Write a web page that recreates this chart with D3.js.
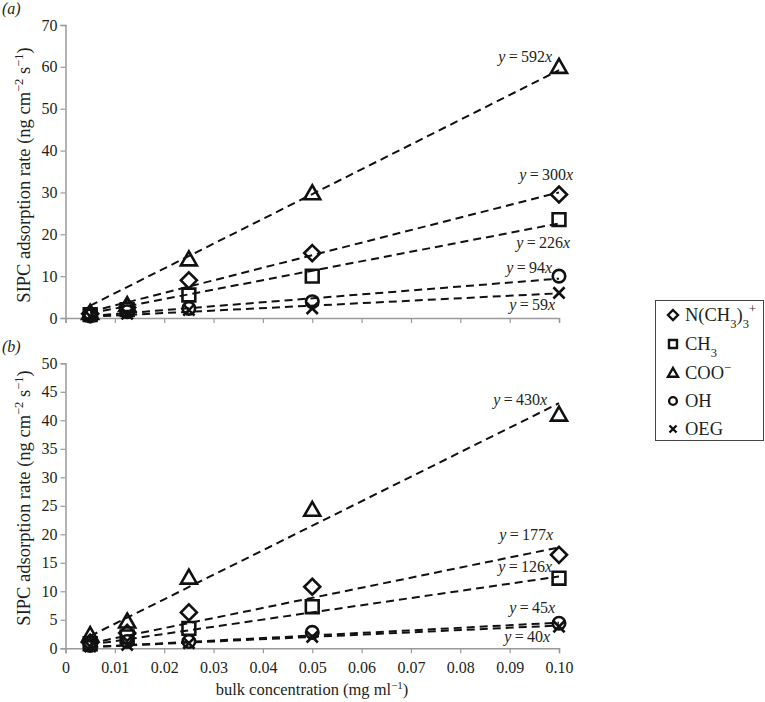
<!DOCTYPE html>
<html><head><meta charset="utf-8">
<script src="https://cdn.jsdelivr.net/npm/d3@7/dist/d3.min.js"></script>
<style>
body{margin:0;background:#fff;}
text{font-family:"Liberation Serif","Times New Roman",serif;fill:#231f20;}
</style></head><body>
<svg id="chart" width="765" height="702"></svg>
<script>
// ---- data ----
const concentrations = [0.005, 0.0125, 0.025, 0.05, 0.1];
const seriesNames = ["N(CH3)3+", "CH3", "COO-", "OH", "OEG"];
const seriesShapes = ["diamond", "square", "triangle", "circle", "cross"];
// panel (a)
const aNMe3 = [1.0, 2.5, 9.0, 15.5, 29.5];
const aCH3  = [0.8, 2.0, 5.5, 10.0, 23.5];
const aCOO  = [1.2, 3.1, 14.0, 29.8, 60.0];
const aOH   = [0.5, 1.5, 2.3, 3.9, 10.0];
const aOEG  = [0.4, 1.0, 1.9, 2.3, 6.0];
const aSlopes = [300, 226, 592, 94, 59];
// panel (b)
const bNMe3 = [1.0, 2.7, 6.3, 10.8, 16.4];
const bCH3  = [0.8, 2.0, 3.5, 7.3, 12.3];
const bCOO  = [2.3, 4.7, 12.4, 24.3, 41.0];
const bOH   = [0.5, 1.2, 1.2, 2.8, 4.4];
const bOEG  = [0.3, 0.6, 0.9, 2.0, 3.8];
const bSlopes = [177, 126, 430, 45, 40];
const xTicks = [0, 0.01, 0.02, 0.03, 0.04, 0.05, 0.06, 0.07, 0.08, 0.09, 0.10];
const xTickLabels = ["0", "0.01", "0.02", "0.03", "0.04", "0.05", "0.06", "0.07", "0.08", "0.09", "0.10"];
const aYTicks = [0, 10, 20, 30, 40, 50, 60, 70];
const bYTicks = [0, 5, 10, 15, 20, 25, 30, 35, 40, 45, 50];

// ---- layout (pixel offsets for equation labels, relative to line end) ----
const aLabelOffsets = [[14, -12], [11, 25], [-7, -8], [-7, -6], [-4, 17]];
const bLabelOffsets = [[-6, -7], [-7, -4], [-12, 2], [-4, -10], [-9, 16]];

const svg = d3.select("#chart");
const x = d3.scaleLinear().domain([0, 0.1]).range([65.5, 559]);
const axisColor = "#9a9a9a";

function marker(g, shape, cx, cy, s, sw) {
  const p = g.append("path").attr("fill", "none").attr("stroke", "#111").attr("stroke-width", sw)
    .attr("stroke-linejoin", "miter");
  let d;
  if (shape === "diamond") d = `M${cx},${cy - s}L${cx + s},${cy}L${cx},${cy + s}L${cx - s},${cy}Z`;
  else if (shape === "square") d = `M${cx - s * 0.8},${cy - s * 0.8}h${s * 1.6}v${s * 1.6}h${-s * 1.6}Z`;
  else if (shape === "triangle") d = `M${cx},${cy - s}L${cx + s * 1.0},${cy + s * 0.75}L${cx - s * 1.0},${cy + s * 0.75}Z`;
  else if (shape === "circle") { g.append("circle").attr("cx", cx).attr("cy", cy).attr("r", s * 0.78)
      .attr("fill", "none").attr("stroke", "#111").attr("stroke-width", sw); p.remove(); return; }
  else d = `M${cx - s * 0.7},${cy - s * 0.7}L${cx + s * 0.7},${cy + s * 0.7}M${cx + s * 0.7},${cy - s * 0.7}L${cx - s * 0.7},${cy + s * 0.7}`;
  p.attr("d", d);
}

function panel(cfg) {
  const y = d3.scaleLinear().domain([0, cfg.ymax]).range(cfg.yRange);
  const g = svg.append("g");
  // axes
  const xa = g.append("g").attr("transform", `translate(0,${cfg.yRange[0]})`)
    .call(d3.axisBottom(x).tickValues(xTicks).tickSize(5)
      .tickFormat((d, i) => cfg.showX ? xTickLabels[i] : ""));
  xa.select(".domain").attr("stroke", axisColor).attr("stroke-width", 1.5);
  xa.selectAll(".tick line").attr("stroke", axisColor).attr("stroke-width", 1.2);
  xa.selectAll(".tick text").attr("font-size", 16).attr("dy", "1.05em")
    .attr("font-family", "Liberation Serif").attr("fill", "#231f20");
  const ya = g.append("g").attr("transform", `translate(${x(0)},0)`)
    .call(d3.axisLeft(y).tickValues(cfg.yTicks).tickSize(5).tickFormat(d3.format("d")));
  ya.select(".domain").attr("stroke", axisColor).attr("stroke-width", 1.5);
  ya.selectAll(".tick line").attr("stroke", axisColor).attr("stroke-width", 1.2);
  ya.selectAll(".tick text").attr("font-size", 16).attr("x", -8)
    .attr("font-family", "Liberation Serif").attr("fill", "#231f20");

  // y-axis title
  const t = g.append("text").attr("transform", `translate(30,${cfg.titleY}) rotate(-90)`)
    .attr("text-anchor", "middle").attr("font-size", 18.5);
  t.append("tspan").text("SIPC adsorption rate (ng cm");
  t.append("tspan").attr("baseline-shift", "super").attr("font-size", 12.5).text("\u22122");
  t.append("tspan").text(" s");
  t.append("tspan").attr("baseline-shift", "super").attr("font-size", 12.5).text("\u22121");
  t.append("tspan").text(")");

  // panel letter
  g.append("text").attr("x", 2).attr("y", cfg.letterY).attr("font-size", 16)
    .attr("font-style", "italic").text(cfg.letter);

  // fit lines
  const line = d3.line().x(d => x(d[0])).y(d => y(d[1]));
  cfg.slopes.forEach((m, i) => {
    g.append("path").attr("d", line([[0.005, m * 0.005], [0.1, m * 0.1]]))
      .attr("fill", "none").attr("stroke", "#111").attr("stroke-width", 2)
      .attr("stroke-dasharray", "8,5");
  });
  // markers
  cfg.series.forEach((vals, i) => {
    vals.forEach((v, j) => marker(g, seriesShapes[i], x(concentrations[j]), y(v), 8, 2.6));
  });
  // equation labels
  cfg.slopes.forEach((m, i) => {
    const [dx, dy] = cfg.offsets[i];
    const tx = g.append("text").attr("x", x(0.1) + dx).attr("y", y(m * 0.1) + dy)
      .attr("text-anchor", "end").attr("font-size", 16);
    tx.append("tspan").attr("font-style", "italic").text("y");
    tx.append("tspan").text("\u2009=\u2009" + m);
    tx.append("tspan").attr("font-style", "italic").text("x");
  });
}

panel({ ymax: 70, yRange: [318, 25], yTicks: aYTicks, showX: false, letter: "(a)", letterY: 14, titleY: 175,
  series: [aNMe3, aCH3, aCOO, aOH, aOEG], slopes: aSlopes, offsets: aLabelOffsets });
panel({ ymax: 50, yRange: [648.3, 363.3], yTicks: bYTicks, showX: true, letter: "(b)", letterY: 352, titleY: 498,
  series: [bNMe3, bCH3, bCOO, bOH, bOEG], slopes: bSlopes, offsets: bLabelOffsets });

// x-axis title
const xt = svg.append("text").attr("x", 312).attr("y", 695).attr("text-anchor", "middle").attr("font-size", 16.5);
xt.append("tspan").text("bulk concentration (mg ml");
xt.append("tspan").attr("baseline-shift", "super").attr("font-size", 11).text("\u22121");
xt.append("tspan").text(")");

// legend
const lg = svg.append("g");
lg.append("rect").attr("x", 655.5).attr("y", 300.5).attr("width", 108).attr("height", 140)
  .attr("fill", "#fff").attr("stroke", "#444").attr("stroke-width", 1);
const legendY = [315, 344, 373, 401, 429];
seriesNames.forEach((n, i) => {
  marker(lg, seriesShapes[i], 673, legendY[i], 5, 2.4);
  const t = lg.append("text").attr("x", 685).attr("y", legendY[i] + 6).attr("font-size", 18.5);
  if (n === "N(CH3)3+") {
    t.append("tspan").text("N(CH");
    t.append("tspan").attr("baseline-shift", "sub").attr("font-size", 12.5).text("3");
    t.append("tspan").text(")");
    t.append("tspan").attr("baseline-shift", "sub").attr("font-size", 12.5).text("3");
    t.append("tspan").attr("dy", -8).attr("font-size", 12.5).text("+");
  } else if (n === "CH3") {
    t.append("tspan").text("CH");
    t.append("tspan").attr("baseline-shift", "sub").attr("font-size", 12.5).text("3");
  } else if (n === "COO-") {
    t.append("tspan").text("COO");
    t.append("tspan").attr("baseline-shift", "super").attr("font-size", 12.5).text("\u2212");
  } else t.text(n);
});
</script>
</body></html>
